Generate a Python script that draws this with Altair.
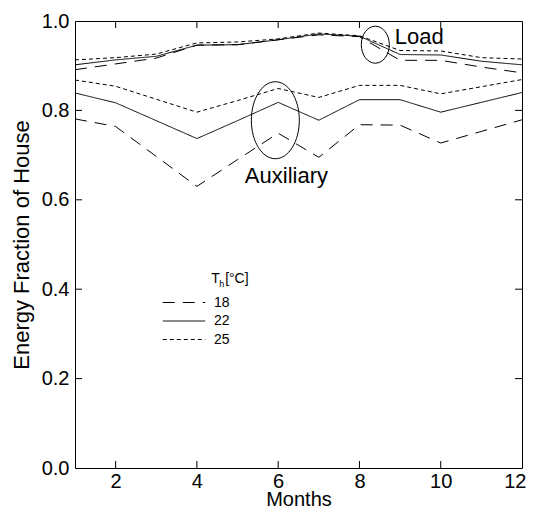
import altair as alt
import pandas as pd

months = list(range(1, 13))
temps = ["18", "22", "25"]

load_18 = [0.891, 0.904, 0.917, 0.946, 0.947, 0.958, 0.969, 0.965, 0.912, 0.912, 0.897, 0.884]
load_22 = [0.902, 0.913, 0.921, 0.946, 0.947, 0.958, 0.971, 0.966, 0.925, 0.924, 0.910, 0.902]
load_25 = [0.913, 0.918, 0.926, 0.951, 0.953, 0.960, 0.973, 0.967, 0.934, 0.933, 0.918, 0.915]

aux_18 = [0.781, 0.764, 0.697, 0.630, 0.690, 0.749, 0.695, 0.768, 0.767, 0.727, 0.753, 0.779]
aux_22 = [0.839, 0.817, 0.777, 0.737, 0.777, 0.818, 0.778, 0.824, 0.824, 0.796, 0.818, 0.840]
aux_25 = [0.868, 0.854, 0.825, 0.796, 0.822, 0.849, 0.829, 0.856, 0.856, 0.837, 0.853, 0.869]

x_ticks = [2, 4, 6, 8, 10, 12]
y_ticks = [0.0, 0.2, 0.4, 0.6, 0.8, 1.0]

# annotation anchors (data coordinates)
ann_text = ["Load", "Auxiliary"]
ann_month = [8.87, 5.18]
ann_value = [0.9485, 0.6376]
ell_month = [8.39, 5.93]
ell_value = [0.947, 0.778]

rows = []
for kind, series in [("Load", [load_18, load_22, load_25]),
                     ("Auxiliary", [aux_18, aux_22, aux_25])]:
    for t, vals in zip(temps, series):
        for m, v in zip(months, vals):
            rows.append({"kind": kind, "T": t, "month": m, "value": v})
df = pd.DataFrame(rows)

FONT = "Liberation Sans"
W = H = 447
xs = alt.Scale(domain=[1, 12], nice=False, zero=False)
ys = alt.Scale(domain=[0, 1], nice=False)
X_AX = alt.Axis(values=x_ticks, title="Months", labelPadding=3, labelFlush=True,
                labelFlushOffset=4,
                titleFontSize=20, titleBaseline="alphabetic", titleY=37)
Y_AX = alt.Axis(values=y_ticks, format=".1f", title="Energy Fraction of House",
                labelPadding=6, titlePadding=8, labelFlush=False)


def X(field):
    return alt.X(field, scale=xs, axis=X_AX)


def Y(field):
    return alt.Y(field, scale=ys, axis=Y_AX)


lines = alt.Chart(df).mark_line(color="black", strokeWidth=1).encode(
    x=X("month:Q"),
    y=Y("value:Q"),
    strokeDash=alt.StrokeDash(
        "T:N",
        scale=alt.Scale(domain=temps, range=[[12, 8], [1, 0], [4, 3]]),
        legend=alt.Legend(orient="none", legendX=87, legendY=274, title=None,
                          symbolType="stroke", symbolSize=1800, symbolStrokeWidth=1,
                          symbolStrokeColor="black", labelFont=FONT, labelFontSize=14,
                          labelColor="black", labelOffset=8, rowPadding=3.5,
                          clipHeight=15, padding=0),
    ),
    detail="kind:N",
)

tick_x = pd.DataFrame({"month": x_ticks[:-1]})
tick_y = pd.DataFrame({"value": y_ticks[1:-1]})
TL = 7
bottom_ticks = alt.Chart(tick_x).mark_rule(color="black").encode(
    x=X("month:Q"), y=alt.value(H), y2=alt.value(H - TL))
top_ticks = alt.Chart(tick_x).mark_rule(color="black").encode(
    x=X("month:Q"), y=alt.value(0), y2=alt.value(TL))
left_ticks = alt.Chart(tick_y).mark_rule(color="black").encode(
    y=Y("value:Q"), x=alt.value(0), x2=alt.value(TL))
right_ticks = alt.Chart(tick_y).mark_rule(color="black").encode(
    y=Y("value:Q"), x=alt.value(W), x2=alt.value(W - TL))

ann = pd.DataFrame({"label": ann_text, "month": ann_month, "value": ann_value})
labels = alt.Chart(ann).mark_text(align="left", baseline="alphabetic", font=FONT,
                                  fontSize=22, color="black").encode(
    x=X("month:Q"), y=Y("value:Q"), text="label:N")

load_path = "M -0.757 0 A 0.757 1 0 1 1 0.757 0 A 0.757 1 0 1 1 -0.757 0 Z"
aux_path = "M -0.623 0 A 0.623 1 0 1 1 0.623 0 A 0.623 1 0 1 1 -0.623 0 Z"
ell_load = alt.Chart(pd.DataFrame({"month": [ell_month[0]], "value": [ell_value[0]]})).mark_point(
    shape=load_path, size=1369, filled=False, color="black", strokeWidth=1, opacity=1).encode(
    x=X("month:Q"), y=Y("value:Q"))
ell_aux = alt.Chart(pd.DataFrame({"month": [ell_month[1]], "value": [ell_value[1]]})).mark_point(
    shape=aux_path, size=5929, filled=False, color="black", strokeWidth=1, opacity=1).encode(
    x=X("month:Q"), y=Y("value:Q"))

# legend title  T_h[°C]
lt = pd.DataFrame({"month": [4.35], "value": [0.414]})
lt_T = alt.Chart(lt).mark_text(align="left", baseline="alphabetic", font=FONT, fontSize=14,
                               color="black", text="T").encode(x=X("month:Q"), y=Y("value:Q"))
lt_h = alt.Chart(lt).mark_text(align="left", baseline="alphabetic", font=FONT, fontSize=9,
                               color="black", text="h", dx=8, dy=4).encode(
    x=X("month:Q"), y=Y("value:Q"))
lt_c = alt.Chart(lt).mark_text(align="left", baseline="alphabetic", font=FONT, fontSize=14,
                               color="black", text="[°C]", dx=14).encode(
    x=X("month:Q"), y=Y("value:Q"))

chart = alt.layer(
    lines, bottom_ticks, top_ticks, left_ticks, right_ticks,
    labels, ell_load, ell_aux, lt_T, lt_h, lt_c,
).properties(
    width=W, height=H,
    autosize=alt.AutoSizeParams(type="none"),
    padding={"left": 67, "top": 13, "right": 4, "bottom": 42},
    background="white",
).configure_view(
    stroke="black", strokeWidth=1
).configure_axis(
    domain=False, ticks=False, tickSize=0, grid=False,
    labelFont=FONT, labelFontSize=20, labelColor="black",
    titleFont=FONT, titleFontSize=22, titleFontWeight="normal", titleColor="black",
)

chart.save("out.html", embed_options={"renderer": "svg", "actions": False})
